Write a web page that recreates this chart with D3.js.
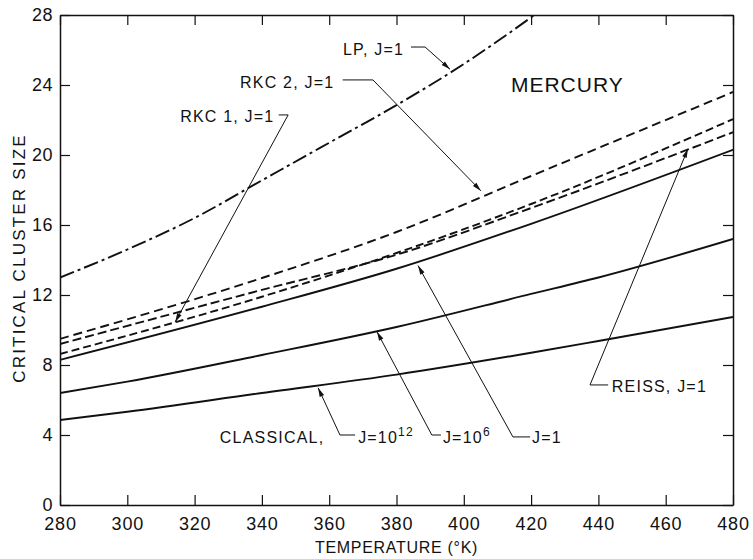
<!DOCTYPE html>
<html>
<head>
<meta charset="utf-8">
<script src="https://cdn.jsdelivr.net/npm/d3@7"></script>
<style>
  body { margin: 0; background: #fff; }
  text { font-family: "Liberation Sans", Arial, sans-serif; fill: #111; }
</style>
</head>
<body>
<div id="chart"></div>
<script>
(function() {
    'use strict';

    // DATA: [temperature °K, critical cluster size]
    const lp = [[280, 13.0], [300, 14.6], [320, 16.4], [340, 18.55], [360, 20.7], [380, 22.85], [400, 25.2], [421, 28.0]];
    const rkc2 = [[280, 9.49], [340, 12.97], [380, 15.6], [420, 18.8], [480, 23.6]];
    const rkc1 = [[280, 8.63], [340, 11.9], [380, 14.4], [420, 17.2], [480, 22.05]];
    const reiss = [[280, 9.2], [340, 12.29], [380, 14.3], [420, 16.97], [480, 21.3]];
    const classicalJ1 = [[280, 8.29], [340, 11.33], [380, 13.5], [420, 16.07], [480, 20.3]];
    const classicalJ6 = [[280, 6.4], [300, 7.05], [340, 8.57], [380, 10.17], [420, 12.06], [440, 13.0], [480, 15.2]];
    const classicalJ12 = [[280, 4.86], [300, 5.33], [340, 6.4], [380, 7.45], [420, 8.7], [440, 9.37], [480, 10.74]];

    const xTicks = [280, 300, 320, 340, 360, 380, 400, 420, 440, 460, 480];
    const yTicks = [0, 4, 8, 12, 16, 20, 24, 28];

    const width = 753;
    const height = 559;
    const marginTop = 15;
    const marginRight = 20;
    const marginBottom = 54;
    const marginLeft = 60;

    const svg = d3.select("#chart")
        .append("svg")
        .attr("width", width)
        .attr("height", height);

    svg.append("rect").attr("width", width).attr("height", height).attr("fill", "#fff");

    // SCALES
    const x = d3.scaleLinear().domain([280, 480]).range([marginLeft, width - marginRight]);
    const y = d3.scaleLinear().domain([0, 28]).range([height - marginBottom, marginTop]);

    // AXES (ticks point inward on all four sides)
    function styleAxis(g) {
        g.select(".domain").attr("stroke", "#111").attr("stroke-width", 1.5);
        g.selectAll(".tick line").attr("stroke", "#111").attr("stroke-width", 1.2);
        g.selectAll(".tick text").attr("fill", "#111").attr("font-family", "Liberation Sans, Arial, sans-serif");
    }

    svg.append("g")
        .attr("transform", `translate(0, ${y(0)})`)
        .call(d3.axisBottom(x).tickValues(xTicks).tickSize(-10).tickSizeOuter(0).tickPadding(12))
        .call(styleAxis)
        .selectAll(".tick text")
        .attr("font-size", "18px")
        .attr("letter-spacing", "0.8px");

    svg.append("g")
        .attr("transform", `translate(0, ${y(28)})`)
        .call(d3.axisTop(x).tickValues(xTicks).tickSize(-10).tickSizeOuter(0).tickFormat(""))
        .call(styleAxis);

    svg.append("g")
        .attr("transform", `translate(${x(280)}, 0)`)
        .call(d3.axisLeft(y).tickValues(yTicks).tickSize(-10).tickSizeOuter(0).tickPadding(7))
        .call(styleAxis)
        .selectAll(".tick text")
        .attr("font-size", "18px")
        .attr("letter-spacing", "0.5px");

    svg.append("g")
        .attr("transform", `translate(${x(480)}, 0)`)
        .call(d3.axisRight(y).tickValues(yTicks).tickSize(-10).tickSizeOuter(0).tickFormat(""))
        .call(styleAxis);

    // AXIS TITLES
    svg.append("text")
        .attr("x", (x(280) + x(480)) / 2)
        .attr("y", 553)
        .attr("text-anchor", "middle")
        .attr("font-size", "16px")
        .attr("letter-spacing", "0.7px")
        .text("TEMPERATURE (°K)");

    svg.append("text")
        .attr("transform", `translate(25, ${(y(0) + y(28)) / 2 - 2}) rotate(-90)`)
        .attr("text-anchor", "middle")
        .attr("font-size", "17px")
        .attr("letter-spacing", "2.2px")
        .text("CRITICAL CLUSTER SIZE");

    // CURVES
    svg.append("clipPath").attr("id", "plotclip")
        .append("rect")
        .attr("x", x(280)).attr("y", y(28))
        .attr("width", x(480) - x(280)).attr("height", y(0) - y(28));

    const line = d3.line()
        .x(d => x(d[0]))
        .y(d => y(d[1]))
        .curve(d3.curveMonotoneX);

    const curves = [
        { data: lp, dash: "15,4,3,4" },
        { data: rkc2, dash: "9,5" },
        { data: rkc1, dash: "8,4" },
        { data: reiss, dash: "9,4" },
        { data: classicalJ1, dash: null },
        { data: classicalJ6, dash: null },
        { data: classicalJ12, dash: null }
    ];

    svg.append("g")
        .attr("clip-path", "url(#plotclip)")
        .selectAll("path")
        .data(curves)
        .join("path")
        .attr("d", d => line(d.data))
        .attr("fill", "none")
        .attr("stroke", "#111")
        .attr("stroke-width", 1.9)
        .attr("stroke-dasharray", d => d.dash);

    // LABELS + LEADERS (anchors in data units)
    const notes = [
        { text: "LP, J=1", at: [364.1, 25.71], leader: [[384.3, 26.17], [388.5, 26.17], [395.9, 24.9]] },
        { text: "RKC 2, J=1", at: [333.5, 23.83], leader: [[364.0, 24.29], [373.0, 24.29], [405.1, 17.95]] },
        { text: "RKC 1, J=1", at: [315.7, 21.89], leader: [[345.0, 22.29], [347.8, 22.29], [314.2, 10.45]] },
        { text: "REISS, J=1", at: [444.0, 6.46], leader: [[442.9, 6.86], [437.5, 6.86], [466.6, 20.35]] },
        { text: "CLASSICAL,", at: [327.5, 3.54], leader: null },
        { text: "J=10", sup: "12", at: [368.6, 3.54], leader: [[367.7, 4.0], [363.2, 4.0], [356.7, 6.7]] },
        { text: "J=10", sup: "6", at: [393.8, 3.54], leader: [[393.2, 4.0], [390.5, 4.0], [374.2, 9.9]] },
        { text: "J=1", at: [420.3, 3.54], leader: [[419.7, 3.89], [414.6, 3.89], [386.4, 13.68]] }
    ];

    const labels = svg.append("g")
        .selectAll("text")
        .data(notes)
        .join("text")
        .attr("x", d => x(d.at[0]))
        .attr("y", d => y(d.at[1]))
        .attr("font-size", "16px")
        .attr("letter-spacing", "1.2px")
        .text(d => d.text);

    labels.filter(d => d.sup)
        .append("tspan")
        .attr("dy", -7)
        .attr("font-size", "12px")
        .text(d => d.sup);

    const leaders = notes.filter(d => d.leader);

    svg.append("g")
        .selectAll("path")
        .data(leaders)
        .join("path")
        .attr("d", d => d3.line()(d.leader.map(p => [x(p[0]), y(p[1])])))
        .attr("fill", "none")
        .attr("stroke", "#111")
        .attr("stroke-width", 1);

    // ARROWHEADS
    svg.append("g")
        .selectAll("path")
        .data(leaders)
        .join("path")
        .attr("d", d => {
            const n = d.leader.length;
            const tx = x(d.leader[n - 1][0]), ty = y(d.leader[n - 1][1]);
            const px = x(d.leader[n - 2][0]), py = y(d.leader[n - 2][1]);
            const len = Math.hypot(tx - px, ty - py);
            const ux = (tx - px) / len, uy = (ty - py) / len;
            const bx = tx - ux * 9, by = ty - uy * 9;
            return `M${tx},${ty}L${bx - uy * 2.4},${by + ux * 2.4}L${bx + uy * 2.4},${by - ux * 2.4}Z`;
        })
        .attr("fill", "#111");

    // TITLE
    svg.append("text")
        .attr("x", x(414.0))
        .attr("y", y(23.6))
        .attr("font-size", "21px")
        .attr("font-weight", "500")
        .attr("letter-spacing", "1px")
        .text("MERCURY");
})();
</script>
</body>
</html>
